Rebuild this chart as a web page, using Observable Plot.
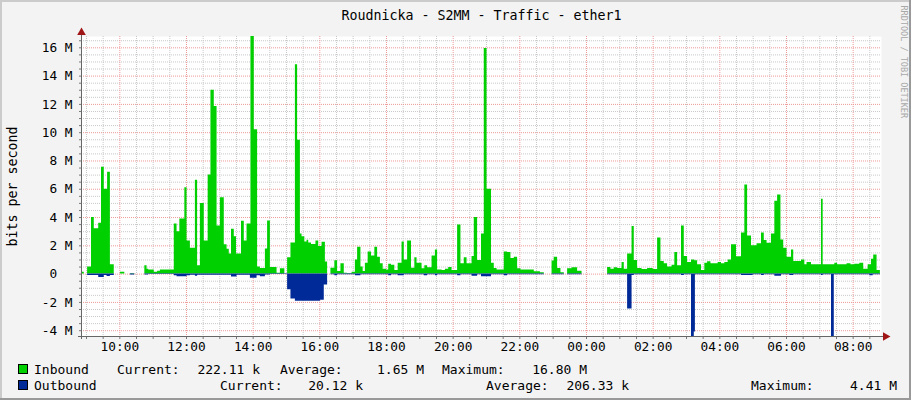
<!DOCTYPE html>
<html><head><meta charset="utf-8">
<script src="https://cdn.jsdelivr.net/npm/d3@7"></script>
<script src="https://cdn.jsdelivr.net/npm/@observablehq/plot@0.6"></script>
<style>
html,body{margin:0;padding:0;background:#fff;}
#wrap{position:relative;width:911px;height:400px;background:#F3F3F3;overflow:hidden;font-family:"DejaVu Sans Mono",monospace;color:#000;}
#wrap svg{position:absolute;left:0;top:0;}
.b{position:absolute;}
.t{position:absolute;white-space:pre;font-size:13px;line-height:13px;}
.sq{position:absolute;width:8px;height:8px;border:1px solid #000;}
</style></head>
<body><div id="wrap"></div>
<script>
// ---- data (Mbit/s) ----
const inTimes = ["08:51","08:56","09:02","09:09","09:14","09:22","09:27","09:32","09:38","09:43","09:50","10:01","10:09","10:19","10:27","10:45","10:49","10:52","11:02","11:08","11:13","11:38","11:43","11:48","11:57","12:01","12:07","12:16","12:20","12:25","12:32","12:39","12:44","12:50","12:55","13:01","13:08","13:13","13:17","13:21","13:26","13:30","13:39","13:44","13:49","13:56","14:02","14:08","14:13","14:22","14:26","14:31","14:43","14:49","14:57","15:02","15:08","15:16","15:20","15:25","15:28","15:33","15:37","15:40","15:45","15:53","15:58","16:04","16:10","16:14","16:20","16:27","16:32","16:38","16:44","16:50","16:58","17:04","17:08","17:14","17:18","17:22","17:27","17:33","17:39","17:44","17:49","17:54","18:00","18:04","18:09","18:15","18:21","18:28","18:32","18:38","18:45","18:51","18:55","19:04","19:09","19:14","19:22","19:28","19:32","19:40","19:46","19:52","19:58","20:08","20:14","20:20","20:25","20:34","20:38","20:44","20:51","20:56","21:01","21:09","21:14","21:19","21:32","21:38","21:44","21:50","21:56","22:02","22:26","22:37","22:44","22:58","23:02","23:08","23:14","23:20","23:26","23:34","23:44","23:52","00:38","00:44","00:50","00:56","01:04","01:08","01:14","01:22","01:26","01:32","01:40","01:50","02:00","02:08","02:14","02:20","02:26","02:34","02:39","02:44","02:51","02:56","03:02","03:09","03:15","03:20","03:27","03:33","03:38","03:44","03:57","04:03","04:09","04:15","04:21","04:30","04:39","04:45","04:50","04:57","05:07","05:15","05:20","05:25","05:33","05:39","05:44","05:50","05:55","06:01","06:09","06:13","06:27","06:33","06:37","06:45","07:03","07:06","07:27","07:32","07:49","07:56","08:03","08:12","08:19","08:27","08:33","08:37","08:43","08:49"];
const inValues = [0.14,0,0.5,4.0,3.2,3.6,7.56,6.0,7.2,0.66,0,0.14,0,0.05,0,0.6,0.35,0.3,0.14,0.2,0.3,3.55,3.0,3.9,6.1,2.35,1.83,6.64,0.6,5.0,2.35,7.0,13.0,11.85,3.4,5.4,2.07,1.76,1.43,3.17,2.65,1.43,3.73,2.35,3.55,16.8,10.2,0.5,0.4,1.78,3.76,0.47,0.07,0.38,0,1.15,2.2,14.8,9.46,2.84,2.65,2.28,2.4,2.2,2.1,2.35,1.95,2.25,0.85,0,0.42,0.94,0.19,0.73,0.07,0.05,0.14,1.0,1.9,0.5,0.19,0.77,1.57,1.29,1.9,1.2,0.73,0.35,0.3,0.7,0.63,0.26,0.77,2.28,1.0,2.35,0.42,1.15,0.77,0.38,0.6,0.45,1.29,1.7,0.3,0.26,0.35,0.47,0.26,3.47,0.73,1.15,0.73,1.24,4.0,0.96,2.84,15.96,6.0,0.77,0.4,0.3,1.57,1.53,1.1,1.2,0.38,0.3,0.16,0.09,0,0.92,1.2,0.4,0.1,0,0.38,0.45,0.21,0,0.47,0.35,0.45,0.4,0.82,0.35,1.43,3.36,0.96,0.4,0.33,0.4,0.33,2.56,0.9,0.73,0.5,0.63,1.53,0.6,3.4,1.24,0.82,1.0,0.94,0.66,0.26,0.77,0.87,0.73,0.82,0.73,0.82,1.0,2.07,1.22,2.91,6.3,2.7,2.0,2.14,2.91,2.37,2.18,2.84,5.16,5.59,2.42,1.83,1.2,1.7,0.9,1.0,0.66,0.82,0.66,5.3,0.66,0.77,0.66,0.73,0.66,0.7,0.77,0.35,0.66,1.06,1.36,0.26,0];

const outTimes = ["08:51","09:02","09:22","09:32","09:37","09:43","09:50","10:19","10:27","10:45","10:52","11:38","11:43","12:01","12:07","12:16","12:20","13:21","13:31","13:55","14:07","14:13","14:22","14:31","15:02","15:08","15:16","16:01","16:08","16:14","16:20","16:27","16:32","17:04","17:14","18:04","18:09","18:21","18:32","19:08","19:14","19:28","19:32","20:08","20:14","20:34","20:44","20:51","21:09","21:32","21:38","22:44","22:58","23:20","23:26","23:52","00:38","01:14","01:22","01:26","02:51","02:56","03:09","03:14","03:16","04:39","05:00","05:15","05:20","05:39","05:51","06:06","06:13","07:03","07:06","07:21","07:26","08:30","08:36","08:49"];
const outValues = [0,-0.1,-0.23,-0.1,-0.16,-0.1,0,-0.07,0,-0.07,-0.02,-0.12,-0.19,-0.12,-0.08,-0.15,-0.08,-0.2,-0.08,-0.3,-0.12,-0.19,-0.07,-0.03,-1.1,-1.76,-1.92,-1.85,-0.77,0,-0.05,-0.12,-0.05,-0.12,-0.05,-0.12,-0.05,-0.12,-0.05,-0.12,-0.05,-0.12,-0.05,-0.12,-0.05,-0.15,-0.05,-0.18,-0.05,-0.12,-0.05,0,-0.05,0,-0.05,0,-0.05,-2.46,-0.1,-0.05,-0.1,-0.05,-4.41,-4.1,-0.05,-0.1,-0.05,-0.1,-0.05,-0.15,-0.05,-0.1,-0.05,-0.1,-0.05,-4.41,-0.05,-0.12,-0.05,0];

const yTicks = [-4,-2,0,2,4,6,8,10,12,14,16];
const titleText = "Roudnicka - S2MM - Traffic - ether1";
const yLabel = "bits per second";
const watermark = "RRDTOOL / TOBI OETIKER";
const legendNames = ["Inbound","Outbound"];
const legendColors = ["#00CF00","#002A97"];
const legendCurrent = ["222.11 k","20.12 k"];
const legendAverage = ["1.65 M","206.33 k"];
const legendMaximum = ["16.80 M","4.41 M"];

// ---- build ----
function toSeries(times, values) {
  let day = 0, prev = -1;
  return times.map((s, i) => {
    const [h, m] = s.split(":").map(Number);
    const mins = h * 60 + m;
    if (mins < prev) day++;
    prev = mins;
    return {t: new Date(Date.UTC(2024, 0, 1 + day, h, m)), v: values[i]};
  });
}
const inData = toSeries(inTimes, inValues);
const outData = toSeries(outTimes, outValues);
const t0 = new Date(Date.UTC(2024, 0, 1, 8, 51));
const t1 = new Date(Date.UTC(2024, 0, 2, 8, 51));
const majorX = d3.utcHour.every(2).range(t0, t1);
const minorX = d3.utcMinute.every(30).range(t0, t1).filter(d => d.getUTCMinutes() !== 0 || d.getUTCHours() % 2 !== 0);
const minorY = d3.range(-4, 16.51, 0.5).filter(d => d % 2 !== 0);
const allMinorY = d3.range(-4, 16.51, 0.5);
const allX = d3.utcMinute.every(30).range(t0, t1);
const yFmt = d => d === 0 ? "0\u00a0\u00a0" : `${d} M`;

const chart = Plot.plot({
  width: 911, height: 400,
  marginLeft: 81, marginRight: 30, marginTop: 36, marginBottom: 64,
  style: {background: "transparent", fontFamily: "DejaVu Sans Mono", fontSize: "12.8px", color: "#000", overflow: "visible"},
  x: {type: "utc", domain: [t0, t1]},
  y: {domain: [-4.41, 16.8]},
  marks: [
    Plot.frame({fill: "#fff", stroke: null}),
    Plot.ruleX(minorX, {stroke: "#C8C8C8", strokeDasharray: "1,1"}),
    Plot.ruleY(minorY, {stroke: "#C8C8C8", strokeDasharray: "1,1"}),
    Plot.ruleX(majorX, {stroke: "#EE9A9A", strokeDasharray: "1,1"}),
    Plot.ruleY(yTicks, {stroke: "#EE9A9A", strokeDasharray: "1,1"}),
    Plot.areaY(inData, {x: "t", y: "v", curve: "step-after", fill: "#00CF00"}),
    Plot.areaY(outData, {x: "t", y: "v", curve: "step-after", fill: "#002A97"}),
    Plot.axisY({ticks: allMinorY, tickSize: 2, tickFormat: () => "", stroke: "#777", label: null}),
    Plot.axisY({ticks: yTicks, tickSize: 0, tickPadding: 9, tickFormat: yFmt, label: null}),
    Plot.axisX({ticks: allX, tickSize: 3, tickFormat: () => "", stroke: "#777", label: null}),
    Plot.axisX({ticks: majorX, tickSize: 0, tickPadding: 5, tickFormat: d3.utcFormat("%H:%M"), label: null}),
    Plot.ruleX([t0], {stroke: "#666", insetTop: -5, insetBottom: -3}),
    Plot.ruleY([-4.41], {stroke: "#666", insetLeft: -3, insetRight: -3}),
    Plot.dot([0], {frameAnchor: "top-left", symbol: "triangle", r: 3.2, fill: "#A01515", stroke: null, dy: -4}),
    Plot.dot([0], {frameAnchor: "bottom-right", symbol: "triangle", rotate: 90, r: 3.2, fill: "#A01515", stroke: null, dx: 4}),
    Plot.text([titleText], {frameAnchor: "top", lineAnchor: "middle", textAnchor: "middle", dy: -21, fontSize: 13.3, fill: "#000"}),
    Plot.text([yLabel], {frameAnchor: "left", rotate: -90, textAnchor: "middle", lineAnchor: "middle", dx: -69, fontSize: 13.3, fill: "#000"}),
    Plot.text([watermark], {frameAnchor: "top-right", rotate: 90, textAnchor: "start", lineAnchor: "middle", dx: 22, dy: -31, fontSize: 8.5, fill: "#A8A8A8"})
  ]
});
const wrap = document.getElementById("wrap");
wrap.appendChild(chart);

// borders (shade)
function box(l, t, w, h, c) {
  const d = document.createElement("div");
  d.className = "b";
  Object.assign(d.style, {left: l + "px", top: t + "px", width: w + "px", height: h + "px", background: c});
  wrap.appendChild(d);
}
box(0, 0, 911, 2, "#CBCBCB");
box(0, 0, 2, 400, "#CBCBCB");
box(0, 398, 911, 2, "#999");
box(909, 0, 2, 400, "#999");

// legend
function txt(s, x, y, right) {
  const d = document.createElement("div");
  d.className = "t";
  d.textContent = s;
  d.style.top = (y - 6.5) + "px";
  if (right) d.style.right = (911 - x) + "px"; else d.style.left = x + "px";
  wrap.appendChild(d);
}
const rows = [
  {y: 369, lab: 34, cur: 117, curEnd: 260, avg: 280, avgEnd: 424, max: 442, maxEnd: 587},
  {y: 385, lab: 34, cur: 220, curEnd: 363, avg: 486, avgEnd: 629, max: 751, maxEnd: 897}
];
rows.forEach((r, i) => {
  const sq = document.createElement("div");
  sq.className = "sq";
  Object.assign(sq.style, {left: "18px", top: (r.y - 5) + "px", background: legendColors[i]});
  wrap.appendChild(sq);
  txt(legendNames[i], r.lab, r.y);
  txt("Current:", r.cur, r.y);
  txt(legendCurrent[i], r.curEnd, r.y, true);
  txt("Average:", r.avg, r.y);
  txt(legendAverage[i], r.avgEnd, r.y, true);
  txt("Maximum:", r.max, r.y);
  txt(legendMaximum[i], r.maxEnd, r.y, true);
});
</script>
</body></html>
